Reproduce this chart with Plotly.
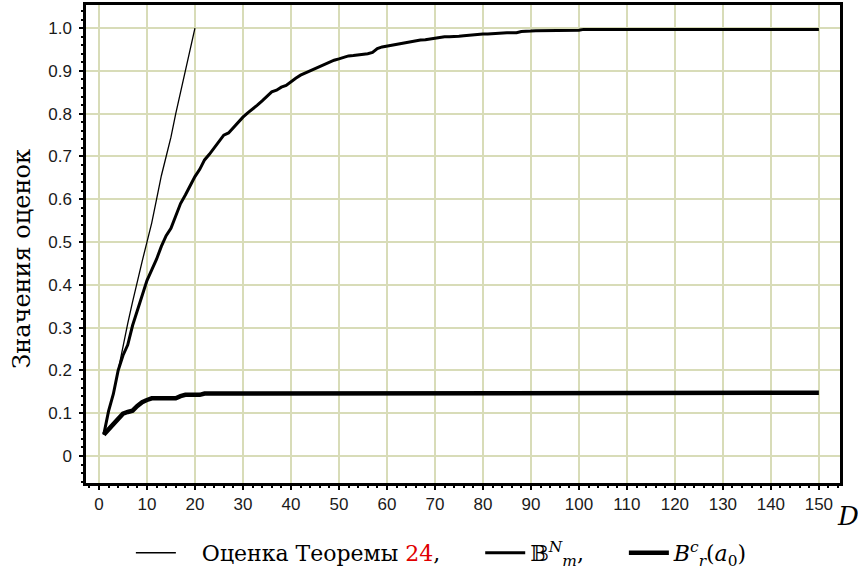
import plotly.graph_objects as go

# Оценка Теоремы 24 (D = 1..20)
thm_D = list(range(1, 21))
thm_vals = [0.05, 0.105, 0.145, 0.20, 0.26, 0.31, 0.36, 0.41, 0.455, 0.50,
            0.545, 0.60, 0.655, 0.70, 0.745, 0.80, 0.85, 0.90, 0.945, 1.0]

# B_m^N (D = 1..150)
bmn_D = list(range(1, 102)) + [150]
bmn_vals = [0.05, 0.105, 0.145, 0.20, 0.235, 0.26, 0.305, 0.34, 0.375, 0.41,
            0.435, 0.46, 0.49, 0.515, 0.532, 0.56, 0.59, 0.61, 0.632, 0.653,
            0.67, 0.692, 0.705, 0.72, 0.735, 0.75, 0.755, 0.768, 0.78, 0.792,
            0.802, 0.81, 0.82, 0.83, 0.84, 0.851, 0.855, 0.862, 0.866, 0.875,
            0.883, 0.89, 0.895, 0.90, 0.905, 0.91, 0.915, 0.921, 0.925, 0.928,
            0.932, 0.935, 0.936, 0.937, 0.938, 0.94, 0.943, 0.952, 0.956, 0.958,
            0.96, 0.963, 0.965, 0.966, 0.968, 0.97, 0.972, 0.973, 0.975, 0.977,
            0.978, 0.98, 0.98, 0.98, 0.981, 0.982, 0.983, 0.984, 0.986, 0.986,
            0.986, 0.987, 0.988, 0.988, 0.989, 0.989, 0.989, 0.992, 0.992, 0.993,
            0.994, 0.994, 0.994, 0.994, 0.994, 0.994, 0.994, 0.994, 0.994, 0.995,
            0.997, 0.997]

# B_r^c(a_0) (D = 1..150)
brc_D = list(range(1, 28)) + [150]
brc_vals = [0.05, 0.062, 0.075, 0.088, 0.099, 0.103, 0.106, 0.117, 0.126, 0.131,
            0.135, 0.135, 0.135, 0.135, 0.135, 0.135, 0.14, 0.143, 0.143, 0.143,
            0.143, 0.146, 0.146, 0.146, 0.146, 0.146, 0.148, 0.148]

x_ticks = list(range(0, 151, 10))
y_ticks = [round(0.1 * i, 1) for i in range(11)]
y_tick_text = ["0", "0.1", "0.2", "0.3", "0.4", "0.5", "0.6", "0.7", "0.8", "0.9", "1.0"]

SERIF = "DejaVu Serif, serif"

names = [
    "   Оценка Теоремы <span style='color:#e00000'>24</span>,     ",
    "𝔹<sup><i>N</i></sup><sub><i>m</i></sub>,     ",
    "<i>B</i><sup><i>c</i></sup><sub><i>r</i></sub>(<i>a</i><sub>0</sub>)",
]

fig = go.Figure()
fig.add_trace(go.Scatter(x=thm_D, y=thm_vals, mode="lines", name=names[0],
                         line=dict(color="black", width=1.3)))
fig.add_trace(go.Scatter(x=bmn_D, y=bmn_vals, mode="lines", name=names[1],
                         line=dict(color="black", width=3)))
fig.add_trace(go.Scatter(x=brc_D, y=brc_vals, mode="lines", name=names[2],
                         line=dict(color="black", width=4.5)))

grid_col = "rgb(216,220,184)"
tick_font = dict(family="Liberation Sans Narrow, Liberation Sans, Arial", size=17, color="#1a1a1a")

fig.update_layout(
    width=858, height=576,
    margin=dict(l=86, r=18, t=5, b=93, autoexpand=False),
    paper_bgcolor="white", plot_bgcolor="white",
    font=dict(family=SERIF, color="black"),
    showlegend=True,
    legend=dict(orientation="h", xref="container", x=0.515, xanchor="center",
                yref="container", y=0.04, yanchor="middle",
                font=dict(family=SERIF, size=22, color="black"),
                bgcolor="rgba(0,0,0,0)", itemwidth=40, tracegroupgap=0),
    xaxis=dict(range=[-2.7, 154.4], tickvals=x_ticks, ticks="outside", ticklen=4,
               tickwidth=2, tickcolor="black", showline=True, linecolor="black",
               linewidth=2.5, mirror=True, showgrid=True, gridcolor=grid_col,
               gridwidth=2, zeroline=False, tickfont=tick_font, automargin=False,
               minor=dict(dtick=2, ticks="outside", ticklen=2, tickwidth=2,
                          tickcolor="black", showgrid=False)),
    yaxis=dict(range=[-0.063, 1.054], tickvals=y_ticks, ticktext=y_tick_text,
               ticks="outside", ticklen=4, tickwidth=2, tickcolor="black",
               showline=True, linecolor="black", linewidth=2.5, mirror=True,
               showgrid=True, gridcolor=grid_col, gridwidth=2, zeroline=False,
               tickfont=tick_font, automargin=False, ticklabelstandoff=4,
               minor=dict(dtick=0.02, ticks="outside", ticklen=2, tickwidth=2,
                          tickcolor="black", showgrid=False)),
    annotations=[
        dict(text="Значения оценок", xref="paper", yref="paper", x=-0.085, y=0.469,
             xanchor="center", yanchor="middle", textangle=-90, showarrow=False,
             font=dict(family=SERIF, size=24, color="black")),
        dict(text="<i>D</i>", xref="paper", yref="paper", x=1.0106, y=-0.07,
             xanchor="center", yanchor="middle", showarrow=False,
             font=dict(family=SERIF, size=26, color="black")),
    ],
)

fig.write_html("out.html")
